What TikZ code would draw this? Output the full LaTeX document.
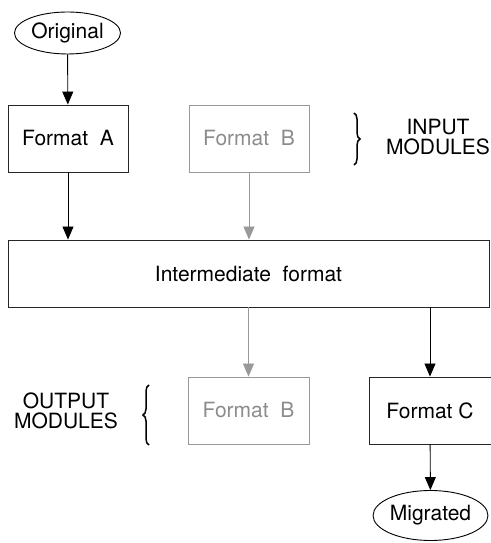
\documentclass[tikz,border=0pt]{standalone}
\usepackage{fontspec}
\setmainfont{TeX Gyre Heros}
\usetikzlibrary{arrows.meta,shapes.geometric,decorations.pathreplacing}
\tikzset{
  lbl/.style={font=\fontsize{21}{20}\selectfont},
  box/.style={draw=black!85, line width=0.9pt, rectangle, inner sep=0pt, lbl},
  ghost/.style={box, draw=black!40, text=black!45},
  oval/.style={draw, ellipse, inner sep=0pt, line width=0.9pt, lbl},
  conn/.style={-{Triangle[length=13pt,width=11pt]}, line width=0.9pt},
  gconn/.style={conn, draw=black!40, color=black!40},
  brc/.style={decorate, decoration={brace, amplitude=6pt}, line width=1.5pt},
  note/.style={align=center, font=\fontsize{21}{20}\selectfont}
}
\begin{document}
\begin{tikzpicture}[x=1pt,y=1pt]
  \useasboundingbox (0,0) rectangle (490,543);
  % y = 543 - pixel row
  \node[oval, minimum width=106pt, minimum height=42pt] (orig) at (67.5,510) {Original};
  \node[box, minimum width=120pt, minimum height=67pt] (fa) at (68,404.5) {Format\ \ A};
  \node[ghost, minimum width=120pt, minimum height=67pt] (fbin) at (249,404.5) {Format\ \ B};
  \node[note] (inlabel) at (438,406) {INPUT\\MODULES};
  \node[box, minimum width=481pt, minimum height=67pt] (inter) at (248.5,269.5) {Intermediate\ \ format};
  \node[ghost, minimum width=121pt, minimum height=67pt] (fbout) at (248.5,132.5) {Format\ \ B};
  \node[box, minimum width=122pt, minimum height=67pt] (fc) at (430,132.5) {Format C};
  \node[note] (outlabel) at (66,132) {OUTPUT\\MODULES};
  \node[oval, minimum width=105pt, minimum height=50pt] (migr) at (430.5,27.5) {Migrated};
  % connectors
  \draw[conn] (orig) -- (fa);
  \draw[conn] (fa.south) -- (fa.south |- inter.north);
  \draw[gconn] (fbin.south) -- (fbin.south |- inter.north);
  \draw[gconn] (fbout.north |- inter.south) -- (fbout.north);
  \draw[conn] (fc.north |- inter.south) -- (fc.north);
  \draw[conn] (fc) -- (migr);
  % braces
  \draw[brc] (354,430) -- (354,378);
  \draw[brc] (149,98) -- (149,158);
\end{tikzpicture}
\end{document}
